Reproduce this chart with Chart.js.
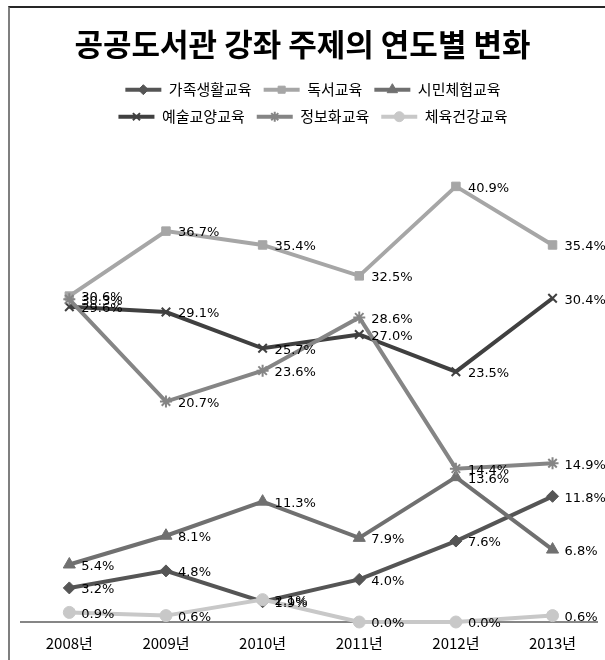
<!DOCTYPE html>
<html lang="ko">
<head>
<meta charset="UTF-8">
<title>공공도서관 강좌 주제의 연도별 변화</title>
<script src="https://cdn.jsdelivr.net/npm/chart.js"></script>
<style>
    body { margin: 0; background: #fff; overflow: hidden; }
    #wrap { position: relative; width: 605px; height: 660px; }
    #frame {
        position: absolute; left: 8px; top: 6px; right: -10px; bottom: -10px;
        border-left: 2px solid #7f7f7f; border-top: 2px solid #262626;
        pointer-events: none;
    }
</style>
</head>
<body>
<div id="wrap">
    <canvas id="chart" width="605" height="660"></canvas>
    <div id="frame"></div>
</div>
<script>
// 연도
var years = ['2008년', '2009년', '2010년', '2011년', '2012년', '2013년'];

// 강좌 주제별 비율 (%)
var familyLife = [3.2, 4.8, 1.9, 4.0, 7.6, 11.8];     // 가족생활교육
var reading    = [30.6, 36.7, 35.4, 32.5, 40.9, 35.4]; // 독서교육
var citizen    = [5.4, 8.1, 11.3, 7.9, 13.6, 6.8];     // 시민체험교육
var arts       = [29.6, 29.1, 25.7, 27.0, 23.5, 30.4]; // 예술교양교육
var infoTech   = [30.3, 20.7, 23.6, 28.6, 14.4, 14.9]; // 정보화교육
var health     = [0.9, 0.6, 2.1, 0.0, 0.0, 0.6];       // 체육건강교육

var seriesNames = ['가족생활교육', '독서교육', '시민체험교육', '예술교양교육', '정보화교육', '체육건강교육'];
var seriesData = [familyLife, reading, citizen, arts, infoTech, health];
var colors = ['#555555', '#a6a6a6', '#707070', '#404040', '#858585', '#c8c8c8'];
var markers = ['rectRot', 'rect', 'triangle', 'crossRot', 'star', 'circle'];
var markerSize = [6, 6, 7, 6, 6, 6];

var datasets = seriesNames.map(function (name, s) {
    return {
        label: name,
        data: seriesData[s].map(function (v, i) { return { x: i, y: v }; }),
        borderColor: colors[s],
        backgroundColor: colors[s],
        borderWidth: 4,
        pointStyle: markers[s],
        pointRadius: markerSize[s],
        pointHoverRadius: markerSize[s],
        pointBackgroundColor: colors[s],
        pointBorderColor: colors[s],
        pointBorderWidth: (markers[s] === 'crossRot' || markers[s] === 'star') ? 2 : 1,
        tension: 0,
        clip: false,
        order: seriesNames.length - s
    };
});

// 데이터 레이블 (값%)
var valueLabels = {
    id: 'valueLabels',
    afterDatasetsDraw: function (chart) {
        var ctx = chart.ctx;
        ctx.save();
        ctx.font = '13px "DejaVu Sans"';
        ctx.fillStyle = '#000';
        ctx.textAlign = 'left';
        ctx.textBaseline = 'middle';
        chart.data.datasets.forEach(function (ds, s) {
            var meta = chart.getDatasetMeta(s);
            meta.data.forEach(function (pt, i) {
                ctx.fillText(seriesData[s][i].toFixed(1) + '%', pt.x + 12, pt.y + 2);
            });
        });
        ctx.restore();
    }
};

// 범례 3개씩 두 줄, 선 위 마커, 제목은 캔버스 전체 폭 기준으로 가운데
var legendTweaks = {
    id: 'legendTweaks',
    beforeLayout: function (chart) {
        var lg = chart.legend;
        if (!lg || lg._rowHack) return;
        var orig = lg._fitRows;
        lg._fitRows = function () {
            var mw = this.maxWidth;
            this.maxWidth = 450;
            var r = orig.apply(this, arguments);
            this.maxWidth = mw;
            return r;
        };
        lg._rowHack = true;
    },
    afterLayout: function (chart) {
        if (chart.titleBlock) {
            chart.titleBlock.left = 0;
            chart.titleBlock.right = chart.width;
        }
    },
    afterDraw: function (chart) {
        var lg = chart.legend;
        if (!lg || !lg.legendHitBoxes) return;
        var ctx = chart.ctx;
        var bw = lg.options.labels.boxWidth;
        lg.legendHitBoxes.forEach(function (hb, i) {
            var s = lg.legendItems[i].datasetIndex;
            var x = hb.left + bw / 2;
            var y = hb.top + hb.height / 2;
            ctx.save();
            ctx.fillStyle = colors[s];
            ctx.strokeStyle = colors[s];
            ctx.lineWidth = (markers[s] === 'crossRot' || markers[s] === 'star') ? 2 : 1;
            if (Chart.helpers && Chart.helpers.drawPoint) {
                Chart.helpers.drawPoint(ctx, { pointStyle: markers[s], radius: markerSize[s] - 1, rotation: 0, borderWidth: ctx.lineWidth }, x, y);
            }
            ctx.restore();
        });
    }
};

var ctx = document.getElementById('chart').getContext('2d');
new Chart(ctx, {
    type: 'line',
    data: { datasets: datasets },
    options: {
        responsive: false,
        animation: false,
        layout: { padding: { left: 21, right: 0, top: 0, bottom: -4 } },
        plugins: {
            title: {
                display: true,
                text: '공공도서관 강좌 주제의 연도별 변화',
                color: '#000',
                font: { family: '"Noto Sans CJK KR"', size: 31, weight: 'bold' },
                padding: { top: 26, bottom: 7 }
            },
            legend: {
                display: true,
                position: 'top',
                labels: {
                    color: '#000',
                    font: { family: '"Noto Sans CJK KR"', size: 15 },
                    boxWidth: 36,
                    boxHeight: 4,
                    padding: 12,
                    sort: function (a, b) { return a.datasetIndex - b.datasetIndex; },
                    generateLabels: function (chart) {
                        var items = Chart.defaults.plugins.legend.labels.generateLabels(chart);
                        items.forEach(function (it) { it.lineWidth = 0; });
                        return items;
                    }
                }
            },
            tooltip: { enabled: false }
        },
        scales: {
            x: {
                type: 'linear',
                min: -0.5,
                max: 5.46,
                afterBuildTicks: function (scale) {
                    scale.ticks = years.map(function (_, i) { return { value: i }; });
                },
                afterFit: function (scale) {
                    scale.paddingLeft = 0;
                    scale.paddingRight = 0;
                },
                ticks: {
                    color: '#000',
                    padding: 12,
                    maxRotation: 0,
                    font: { family: '"Noto Sans CJK KR"', size: 15 },
                    callback: function (v) { return years[v]; }
                },
                grid: { display: false, drawTicks: false },
                border: { display: true, color: '#868686', width: 2 }
            },
            y: {
                display: false,
                min: 0,
                max: 45.8
            }
        }
    },
    plugins: [valueLabels, legendTweaks]
});
</script>
</body>
</html>
